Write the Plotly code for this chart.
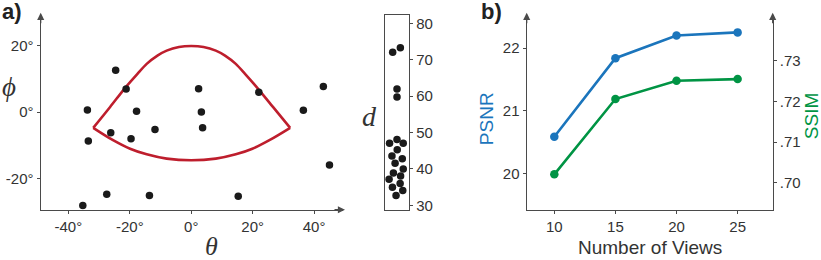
import plotly.graph_objects as go

W, H = 821, 260

# ---------------- data ----------------
theta = [-33.8, -24.6, -21.2, -17.8, -26.2, -33.5, -19.6, -11.8, 2.4, 3.3, 3.7,
         22.0, 36.5, 43.0, 45.0, -35.3, -27.5, -13.6, 15.3]
phi = [0.7, 12.7, 7.0, 0.3, -6.2, -8.7, -8.0, -5.2, 7.1, 0.1, -4.7,
       6.0, 0.6, 7.8, -15.9, -28.1, -24.7, -25.1, -25.3]

fov_upper_theta = [-31.9, -26.4, -21.3, -17.5, -14.5, -11.0, -8.0, -4.0, 0.0,
                   4.0, 8.0, 11.0, 14.5, 17.5, 21.3, 26.6, 32.2]
fov_upper_phi = [-4.7, 1.6, 7.6, 11.6, 14.6, 17.1, 18.6, 19.7, 20.0,
                 19.7, 18.6, 17.1, 14.6, 11.6, 7.6, 1.6, -4.7]
fov_lower_theta = [-31.9, -25.3, -19.9, -14.5, -8.0, 0.0, 8.0, 14.5, 19.9, 25.3, 32.2]
fov_lower_phi = [-4.7, -8.5, -11.0, -12.7, -14.0, -14.5, -14.0, -12.7, -11.0, -8.5, -4.7]

depth = [72.1, 73.3, 62.0, 59.8, 47.1, 48.1, 47.1, 45.3, 43.6, 42.8, 41.6,
         40.0, 38.9, 38.1, 37.2, 36.0, 35.0, 34.1, 32.7]
depth_jitter = [0.32, 0.64, 0.5, 0.5, 0.19, 0.5, 0.76, 0.51, 0.29, 0.72, 0.42,
                0.76, 0.35, 0.65, 0.17, 0.63, 0.31, 0.74, 0.46]

views = [10, 15, 20, 25]
psnr = [20.59, 21.84, 22.20, 22.25]
ssim = [0.7021, 0.7206, 0.7251, 0.7255]

theta_ticks = [-40, -20, 0, 20, 40]
phi_ticks = [-20, 0, 20]
depth_ticks = [30, 40, 50, 60, 70, 80]
psnr_ticks = [20, 21, 22]
ssim_ticks = [0.70, 0.71, 0.72, 0.73]

RED = "#be1e2d"
BLUE = "#1b75bc"
GREEN = "#009444"
AX = "#4a4a4a"
TXT = "#333333"
FONT = "Liberation Sans, Arial, sans-serif"
SERIF = "Liberation Serif, Times New Roman, serif"


def px(x):
    return x / W


def py(y):
    return (H - y) / H


fig = go.Figure()

# panel a scatter
fig.add_trace(go.Scatter(x=fov_upper_theta, y=fov_upper_phi, mode="lines",
                         line=dict(color=RED, width=2.6, shape="spline", smoothing=0.8),
                         xaxis="x", yaxis="y", hoverinfo="skip"))
fig.add_trace(go.Scatter(x=fov_lower_theta, y=fov_lower_phi, mode="lines",
                         line=dict(color=RED, width=2.6, shape="spline", smoothing=1.0),
                         xaxis="x", yaxis="y", hoverinfo="skip"))
fig.add_trace(go.Scatter(x=theta, y=phi, mode="markers",
                         marker=dict(color="#1a1a1a", size=7.5),
                         xaxis="x", yaxis="y"))

# depth strip
fig.add_trace(go.Scatter(x=depth_jitter, y=depth, mode="markers",
                         marker=dict(color="#1a1a1a", size=7.5),
                         xaxis="x2", yaxis="y2"))

# panel b
fig.add_trace(go.Scatter(x=views, y=psnr, mode="lines+markers",
                         line=dict(color=BLUE, width=2.6),
                         marker=dict(color=BLUE, size=8.5),
                         xaxis="x3", yaxis="y3"))
fig.add_trace(go.Scatter(x=views, y=ssim, mode="lines+markers",
                         line=dict(color=GREEN, width=2.6),
                         marker=dict(color=GREEN, size=8.5),
                         xaxis="x3", yaxis="y4"))

ydom = [py(213), py(15)]
common = dict(showgrid=False, zeroline=False, linecolor=AX, linewidth=1.3,
              ticks="outside", ticklen=3, tickcolor=AX, tickwidth=1,
              tickfont=dict(family=FONT, size=15, color=TXT))

fig.update_layout(
    width=W, height=H, autosize=False,
    margin=dict(l=0, r=0, t=0, b=0),
    paper_bgcolor="white", plot_bgcolor="white",
    showlegend=False,
    xaxis=dict(domain=[px(40.7), px(343)], range=[-49.0, 49.4], anchor="y",
               showline=True, tickvals=theta_ticks,
               ticktext=[f"{v}°" for v in theta_ticks], **common),
    yaxis=dict(domain=ydom, range=[-29.4, 29.4], anchor="x",
               showline=True, tickvals=phi_ticks,
               ticktext=[f"{v}°" for v in phi_ticks], **common),
    xaxis2=dict(domain=[px(385), px(409)], range=[0, 1], anchor="y2",
                showline=True, mirror=True, showticklabels=False,
                showgrid=False, zeroline=False, ticks="",
                linecolor=AX, linewidth=1.3),
    yaxis2=dict(domain=ydom, range=[28.8, 82.4], anchor="x2", side="right",
                showline=True, mirror=True, tickvals=depth_ticks, **common),
    xaxis3=dict(domain=[px(526.7), px(772.7)], range=[7.74, 27.87], anchor="y3",
                showline=True, tickvals=views, **common),
    yaxis3=dict(domain=ydom, range=[19.43, 22.53], anchor="x3",
                showline=True, tickvals=psnr_ticks, **common),
    yaxis4=dict(domain=ydom, range=[0.6934, 0.7413], anchor="x3", overlaying="y3",
                side="right", showline=True, tickvals=ssim_ticks,
                ticktext=[f"{v:.2f}"[1:] for v in ssim_ticks], **common),
)

ann = []


def arrow(x, y, ax, ay):
    ann.append(dict(x=px(x), y=py(y), xref="paper", yref="paper", text="",
                    showarrow=True, ax=ax, ay=ay, arrowhead=2, arrowsize=1.1,
                    arrowwidth=1.3, arrowcolor=AX))


arrow(40.7, 13, 0, 12)
arrow(345, 213, -12, 0)
arrow(526.7, 13, 0, 12)
arrow(772.7, 13, 0, 12)


def label(text, x, y, size, color=TXT, family=FONT, angle=0, xanchor="center"):
    ann.append(dict(x=px(x), y=py(y), xref="paper", yref="paper", text=text,
                    showarrow=False, textangle=angle, xanchor=xanchor, yanchor="middle",
                    font=dict(family=family, size=size, color=color)))


label("<b>a)</b>", 0, 12, 22, color="#222222", xanchor="left")
label("<b>b)</b>", 479, 12, 22, color="#222222", xanchor="left")
label("<i>ϕ</i>", 9, 88, 27, family=SERIF)
label("<i>θ</i>", 211, 250, 26, family=SERIF)
label("<i>d</i>", 369, 118, 28, family=SERIF)
label("PSNR", 486, 120, 19, color=BLUE, angle=-90)
label("SSIM", 811, 118, 19, color=GREEN, angle=-90)
label("Number of Views", 649.5, 251, 19)

fig.update_layout(annotations=ann)

fig.write_html("out.html", config={"displayModeBar": False},
               post_script="document.body.style.margin='0';")
